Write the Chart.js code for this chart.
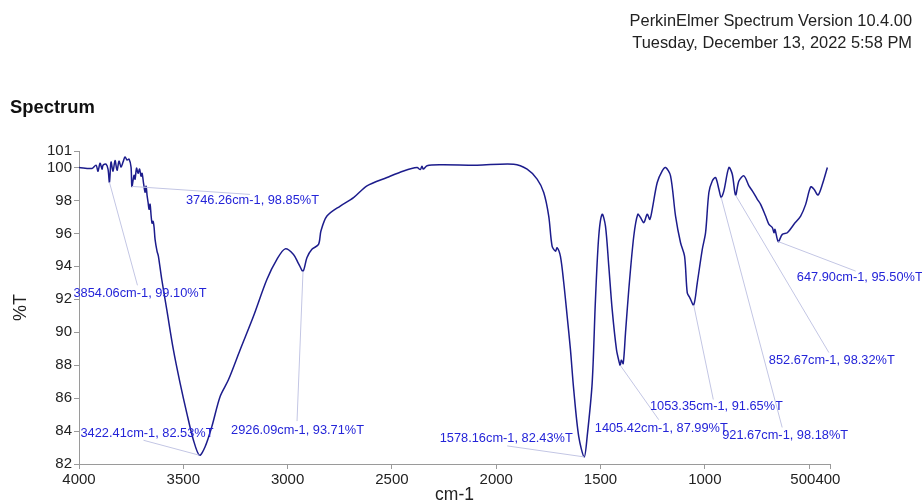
<!DOCTYPE html>
<html>
<head>
<meta charset="utf-8">
<script src="https://cdn.jsdelivr.net/npm/chart.js@4"></script>
<style>
  html, body { margin: 0; padding: 0; background: #fff; }
  body { width: 922px; height: 503px; position: relative; overflow: hidden; font-family: "Liberation Sans", Arial, sans-serif; }
  #wrap { position: absolute; left: 0; top: 0; width: 922px; height: 503px; }
  .header { position: absolute; right: 10px; top: 9px; text-align: right; font-size: 16.4px; line-height: 22px; color: #222; }
  .heading { position: absolute; left: 10px; top: 96px; font-size: 18.4px; line-height: 22px; font-weight: bold; color: #111; }
</style>
</head>
<body>
<div id="wrap"><canvas id="irChart"></canvas></div>
<div class="header">PerkinElmer Spectrum Version 10.4.00<br>Tuesday, December 13, 2022 5:58 PM</div>
<div class="heading">Spectrum</div>
<script>
// Spectrum trace (cm-1, %T)
const wavenumbers = [
  4000, 3937.6, 3918.4, 3908.8, 3899.2, 3889.6, 3884.8, 3870.5, 3860.9, 3854.06,
  3846.5, 3836.9, 3827.3, 3817.7, 3808.1, 3798.5, 3788.9, 3779.3, 3769.7, 3760.1,
  3750.5, 3746.26, 3736.1, 3731.3, 3724.1, 3716.9, 3709.7, 3702.5, 3697.7, 3690.5,
  3683.3, 3678.5, 3673.7, 3668.9, 3664.1, 3659.3, 3654.5, 3649.7, 3644.9, 3640.1,
  3635.4, 3625.8, 3619.5, 3603.2, 3579.2, 3547.6, 3515.4, 3483.3, 3451.6, 3422.41,
  3395.5, 3363.3, 3323.5, 3283.7, 3227.5, 3163.7, 3099.4, 3051.4, 3011.6, 2971.8,
  2947.8, 2926.09, 2907.5, 2883.5, 2851.8, 2840.3, 2811.5, 2747.7, 2683.9, 2619.6,
  2523.6, 2444.0, 2379.7, 2363.9, 2355.7, 2349.5, 2331.8, 2267.9, 2091.8, 1916.3,
  1851.9, 1804.0, 1772.3, 1748.3, 1732.2, 1716.1, 1708.0, 1692.2, 1676.3, 1660.0,
  1644.2, 1628.4, 1604.4, 1578.16, 1564.1, 1540.1, 1524.3, 1508.4, 1492.1, 1476.3,
  1460.4, 1444.1, 1423.5, 1410.0, 1405.42, 1400.5, 1391.3, 1380.3, 1364.5, 1340.5, 1321.3, 1308.3,
  1292.5, 1276.2, 1263.7, 1252.2, 1228.2, 1204.2, 1188.4, 1164.4, 1140.4, 1116.4,
  1097.2, 1084.2, 1071.8, 1053.35, 1036.2, 1012.2, 996.5, 980.6, 964.3, 948.5,
  932.6, 921.67, 908.7, 884.7, 868.4, 852.67, 836.7, 812.7, 788.6, 772.4,
  748.4, 732.6, 708.6, 692.7, 676.4, 668.7, 663.9, 647.90, 628.6, 604.6,
  572.9, 540.7, 516.7, 492.7, 476.8, 457.6, 436.5, 412.6
];
const transmittance = [
  100.0, 99.94, 100.14, 99.77, 100.26, 99.90, 100.14, 100.20, 99.90, 99.10,
  100.33, 99.77, 100.43, 99.83, 100.38, 100.02, 100.33, 100.64, 100.45, 100.51,
  100.02, 98.85, 99.53, 99.29, 99.96, 99.65, 99.90, 99.47, 99.65, 99.04,
  98.50, 98.86, 98.31, 97.89, 97.46, 97.77, 97.10, 96.61, 96.73, 96.37,
  95.64, 94.91, 94.62, 93.20, 91.37, 88.94, 86.91, 85.09, 83.46, 82.53,
  83.05, 84.27, 86.10, 87.11, 88.94, 90.97, 93.20, 94.42, 95.06, 94.72,
  94.17, 93.71, 94.52, 95.03, 95.33, 96.14, 97.05, 97.66, 98.17, 98.88,
  99.39, 99.79, 100.00, 99.87, 100.08, 99.90, 100.10, 100.16, 100.14, 100.20,
  99.90, 99.29, 98.48, 97.05, 95.23, 94.92, 95.13, 94.60, 93.00, 90.97,
  88.94, 86.50, 83.66, 82.43, 83.66, 86.91, 91.98, 95.84, 97.16, 96.44,
  94.01, 91.37, 88.94, 88.15, 87.99, 88.30, 88.10, 89.96, 92.59, 95.84, 97.16, 96.96,
  96.65, 97.16, 96.85, 97.46, 99.09, 99.79, 100.00, 99.49, 97.05, 95.43,
  94.62, 92.39, 92.09, 91.65, 93.00, 95.03, 96.04, 98.48, 99.18, 99.39,
  98.68, 98.18, 98.58, 100.00, 99.59, 98.32, 99.18, 99.49, 98.88, 98.58,
  98.07, 97.76, 97.05, 96.55, 96.35, 96.04, 96.24, 95.50, 95.94, 96.04,
  96.55, 97.05, 97.76, 98.82, 98.68, 98.33, 98.98, 100.00
];

// Labelled peaks
const peakWn = [3854.06, 3746.26, 3422.41, 2926.09, 1578.16, 1405.42, 1053.35, 921.67, 852.67, 647.90];
const peakT = [99.10, 98.85, 82.53, 93.71, 82.43, 87.99, 91.65, 98.18, 98.32, 95.50];

// Axis ticks
const xTicks = [4000, 3500, 3000, 2500, 2000, 1500, 1000, 500, 400];
const yTicks = [82, 84, 86, 88, 90, 92, 94, 96, 98, 100, 101];

// where each peak label sits, in pixels from its peak: [line end dx, dy, text dx, dy]
const labelOffsets = [
  [28, 103, -36, 111],
  [118, 8, 54, 14.5],
  [-56, -15, -119, -22],
  [-6, 150, -72, 159],
  [-77, -11, -144.5, -18.6],
  [38.5, 54.4, -25.5, 63.4],
  [19.6, 94.5, -43.8, 101.8],
  [61, 230, 1, 238],
  [93.3, 157.4, 33.3, 165.8],
  [77.4, 29.5, 18.5, 36]
];

const points = wavenumbers.map((w, i) => ({ x: w, y: transmittance[i] }));

const peakLabels = {
  id: 'peakLabels',
  afterDatasetsDraw(chart) {
    const ctx = chart.ctx;
    const xs = chart.scales.x, ys = chart.scales.y;
    ctx.save();
    ctx.font = '12.8px "Liberation Sans", Arial, sans-serif';
    ctx.textBaseline = 'middle';
    ctx.textAlign = 'left';
    peakWn.forEach((w, i) => {
      const px = xs.getPixelForValue(w);
      const py = ys.getPixelForValue(peakT[i]);
      const o = labelOffsets[i];
      ctx.strokeStyle = '#c3c6e4';
      ctx.lineWidth = 1;
      ctx.beginPath();
      ctx.moveTo(px, py);
      ctx.lineTo(px + o[0], py + o[1]);
      ctx.stroke();
      ctx.fillStyle = '#2424d8';
      const txt = w.toFixed(2) + 'cm-1, ' + peakT[i].toFixed(2) + '%T';
      ctx.fillText(txt, px + o[2], py + o[3]);
    });
    ctx.restore();
  }
};

const axisGray = '#9a9a9a';
const tickFont = { family: '"Liberation Sans", Arial, sans-serif', size: 15 };

new Chart(document.getElementById('irChart'), {
  type: 'line',
  data: {
    datasets: [{
      data: points,
      borderColor: '#1c1c8c',
      borderWidth: 1.5,
      pointRadius: 0,
      tension: 0.3,
      fill: false
    }]
  },
  options: {
    responsive: true,
    maintainAspectRatio: false,
    animation: false,
    events: [],
    layout: { padding: { top: 151, right: 92, left: 0, bottom: 0 } },
    plugins: { legend: { display: false }, tooltip: { enabled: false } },
    scales: {
      x: {
        type: 'linear',
        reverse: true,
        min: 400,
        max: 4000,
        afterBuildTicks: s => { s.ticks = xTicks.map(v => ({ value: v })); },
        afterFit: s => { s.height = 39; },
        ticks: {
          autoSkip: false, maxRotation: 0, padding: 2, color: '#222', font: tickFont,
          // 500 and 400 sit close together: nudge them apart like the original
          callback: v => v === 500 ? '500   ' : (v === 400 ? '400 ' : String(v))
        },
        grid: { drawOnChartArea: false, tickLength: 5, color: axisGray },
        border: { color: axisGray },
        title: { display: true, text: 'cm-1', color: '#222', padding: { top: 0, bottom: -3 },
                 font: { family: '"Liberation Sans", Arial, sans-serif', size: 17.5 } }
      },
      y: {
        min: 82,
        max: 101,
        afterBuildTicks: s => { s.ticks = yTicks.map(v => ({ value: v })); },
        afterFit: s => { s.width = 79; },
        ticks: { autoSkip: false, padding: 2, color: '#222', font: tickFont, callback: v => String(v) },
        grid: { drawOnChartArea: false, tickLength: 5, color: axisGray },
        border: { color: axisGray },
        title: { display: true, text: '%T', color: '#222', padding: { top: 10, bottom: 0 },
                 font: { family: '"Liberation Sans", Arial, sans-serif', size: 18 } }
      }
    }
  },
  plugins: [peakLabels]
});
</script>
</body>
</html>
